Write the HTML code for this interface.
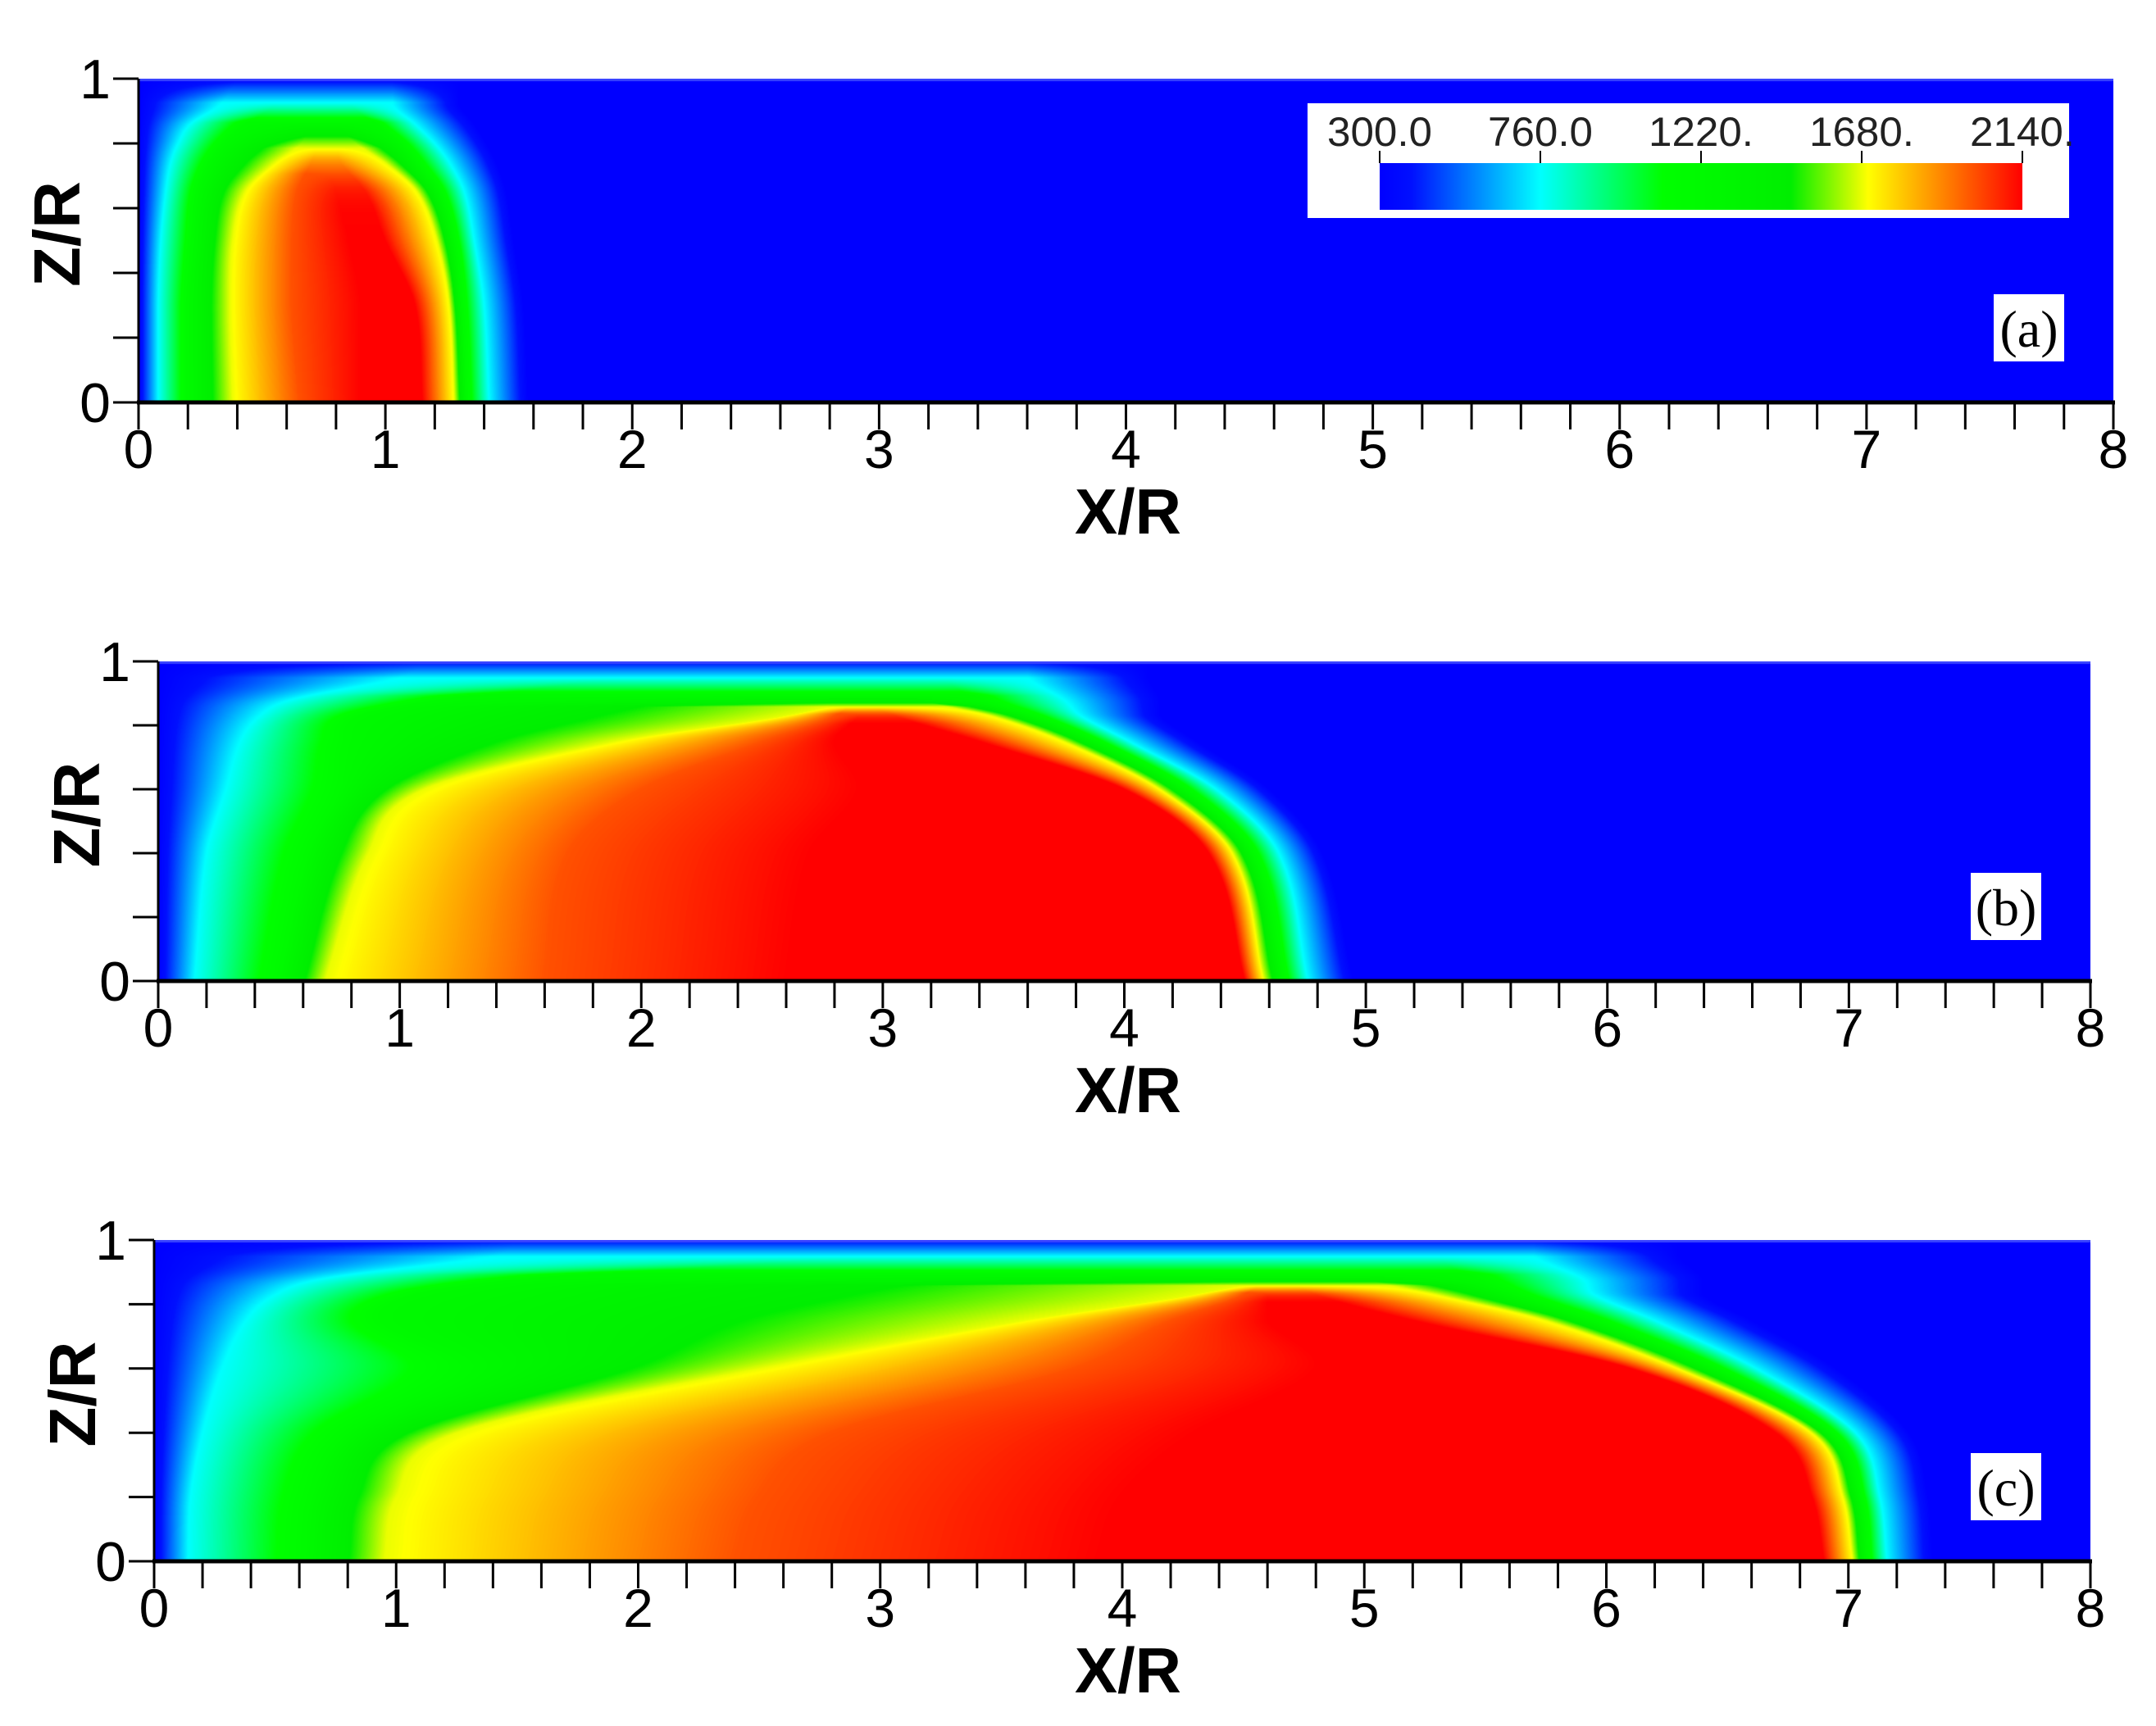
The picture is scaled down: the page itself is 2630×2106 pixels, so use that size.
<!DOCTYPE html>
<html><head><meta charset="utf-8">
<style>
html,body{margin:0;padding:0;background:#fff;}
#wrap{position:relative;width:2630px;height:2106px;overflow:hidden;background:#fff;}
canvas{position:absolute;}
svg{position:absolute;left:0;top:0;}
</style></head>
<body>
<div id="wrap">
<canvas id="cA"></canvas>
<canvas id="cB"></canvas>
<canvas id="cC"></canvas>
<svg id="ov" width="2630" height="2106"></svg>
</div>
<script>
// ---- data ----
const xTicks = [0,1,2,3,4,5,6,7,8];
const cbTickValues = [300,760,1220,1680,2140];
const cbTickLabels = ["300.0","760.0","1220.","1680.","2140."];
const knotTemps = [300,760,1220,1680,2000,2140,2140,1680,1220,760,300];
const panelLabels = ["(a)","(b)","(c)"];

const zA = [0,0.3,0.5,0.65,0.74,0.8,0.86,0.92,1.0];
const peakA = [2140,2140,2140,2100,1900,1600,1250,800,330];
const knotsA = [
 [0,0.08,0.20,0.38,0.65,0.90,1.15,1.28,1.33,1.42,1.58],
 [0,0.08,0.20,0.37,0.62,0.90,1.12,1.26,1.31,1.40,1.56],
 [0,0.09,0.22,0.38,0.62,0.85,1.00,1.21,1.28,1.36,1.52],
 [0,0.11,0.24,0.43,0.64,0.80,0.92,1.13,1.22,1.32,1.49],
 [0,0.13,0.29,0.55,0.70,0.76,0.82,1.00,1.13,1.26,1.45],
 [0,0.16,0.35,0.66,0.72,0.76,0.80,0.88,1.06,1.20,1.41],
 [0,0.21,0.44,0.68,0.70,0.72,0.76,0.80,0.96,1.12,1.36],
 [0,0.33,0.55,0.60,0.63,0.66,0.70,0.75,0.86,1.03,1.30],
 [0,0.40,0.55,0.60,0.63,0.66,0.70,0.75,0.86,1.03,1.30]
];

const zB = [0,0.4,0.6,0.75,0.83,0.88,0.95,1.0];
const peakB = [2140,2140,2140,2140,2050,1350,750,360];
const knotsB = [
 [0,0.15,0.50,0.69,1.6,2.6,4.50,4.58,4.66,4.76,4.95],
 [0,0.20,0.62,0.87,1.7,2.7,4.35,4.45,4.53,4.64,4.82],
 [0,0.28,0.75,1.10,2.0,2.9,4.00,4.15,4.25,4.38,4.60],
 [0,0.34,0.78,1.90,2.5,2.8,3.40,3.75,3.88,4.02,4.30],
 [0,0.42,0.85,2.60,2.8,2.9,3.05,3.45,3.62,3.82,4.15],
 [0,0.55,1.20,2.80,2.85,2.9,2.95,3.15,3.40,3.75,4.15],
 [0,1.00,1.90,2.40,2.6,2.8,3.00,3.10,3.25,3.60,4.10],
 [0,1.10,2.00,2.40,2.6,2.8,3.00,3.10,3.25,3.60,4.10]
];

const zC = [0,0.2,0.4,0.6,0.75,0.83,0.88,0.95,1.0];
const peakC = [2140,2140,2140,2140,2140,2050,1350,750,360];
const knotsC = [
 [0,0.14,0.62,0.95,2.4,3.9,6.90,7.02,7.08,7.16,7.35],
 [0,0.15,0.65,1.00,2.5,4.0,6.85,6.98,7.05,7.13,7.33],
 [0,0.20,0.80,1.25,2.8,4.3,6.70,6.85,6.93,7.03,7.25],
 [0,0.28,1.30,2.50,3.8,4.8,6.10,6.30,6.45,6.62,6.95],
 [0,0.38,0.95,3.60,4.2,4.6,5.20,5.75,5.95,6.20,6.60],
 [0,0.50,1.10,4.30,4.5,4.6,4.80,5.30,5.62,5.95,6.40],
 [0,0.70,1.60,4.50,4.55,4.6,4.70,5.00,5.45,5.90,6.40],
 [0,1.40,2.90,3.80,4.2,4.5,4.80,5.00,5.30,5.70,6.30],
 [0,1.50,3.00,3.80,4.2,4.5,4.80,5.00,5.30,5.70,6.30]
];

// colormap stops (fraction of 300..2140)
const cmapPos = [0,0.05,0.25,0.44,0.64,0.76,0.88,1];
const cmapCol = ["#0000ff","#0010ff","#00ffff","#00ff00","#00ee00","#ffff00","#ff8000","#ff0000"];

// ---- layout ----
const panels = [
 {id:"cA", L:169, R:2578, T:96,  B:491,  z:zA, peak:peakA, knots:knotsA, key:"a"},
 {id:"cB", L:193, R:2550, T:807, B:1197, z:zB, peak:peakB, knots:knotsB, key:"b"},
 {id:"cC", L:188, R:2550, T:1513,B:1905, z:zC, peak:peakC, knots:knotsC, key:"c"}
];
const TMIN=300, TMAX=2140;
function hex(c){return [parseInt(c.substr(1,2),16),parseInt(c.substr(3,2),16),parseInt(c.substr(5,2),16)];}
const cmapRGB = cmapCol.map(hex);
function colorAt(f){
  f=Math.max(0,Math.min(1,f));
  for(let i=0;i<cmapPos.length-1;i++){
    if(f<=cmapPos[i+1]){
      const t=(f-cmapPos[i])/(cmapPos[i+1]-cmapPos[i]);
      const a=cmapRGB[i],b=cmapRGB[i+1];
      return [a[0]+(b[0]-a[0])*t,a[1]+(b[1]-a[1])*t,a[2]+(b[2]-a[2])*t];
    }
  }
  return cmapRGB[cmapRGB.length-1];
}
const LUT=[];for(let i=0;i<512;i++)LUT.push(colorAt(i/511));

function interp(zs,vals,k,t){
  const n=zs.length;
  const p0=vals[Math.max(0,k-1)],p1=vals[k],p2=vals[k+1],p3=vals[Math.min(n-1,k+2)];
  const z0=zs[Math.max(0,k-1)],z1=zs[k],z2=zs[k+1],z3=zs[Math.min(n-1,k+2)];
  const h=z2-z1;
  const m1=(k>0)?(p2-p0)/(z2-z0)*h:(p2-p1);
  const m2=(k+2<n)?(p3-p1)/(z3-z1)*h:(p2-p1);
  const t2=t*t,t3=t2*t;
  let v=(2*t3-3*t2+1)*p1+(t3-2*t2+t)*m1+(-2*t3+3*t2)*p2+(t3-t2)*m2;
  const lo=Math.min(p1,p2),hi=Math.max(p1,p2);
  return Math.max(lo-0.15*(hi-lo),Math.min(hi+0.15*(hi-lo),v));
}

function drawField(p){
  const cv=document.getElementById(p.id);
  const W=p.R-p.L,H=p.B-p.T;
  cv.width=W;cv.height=H;cv.style.left=p.L+"px";cv.style.top=p.T+"px";
  const ctx=cv.getContext("2d");
  const img=ctx.createImageData(W,H);const d=img.data;
  const xs=new Array(11),ts=new Array(11);
  const cols=p.knots[0].map((_,n)=>p.knots.map(r=>r[n]));
  for(let j=0;j<H;j++){
    const z=1-(j+0.5)/H;
    let k=0;while(k<p.z.length-2&&z>p.z[k+1])k++;
    const t=Math.max(0,Math.min(1,(z-p.z[k])/(p.z[k+1]-p.z[k])));
    let pk=interp(p.z,p.peak,k,t);pk=Math.max(TMIN,Math.min(TMAX,pk));
    for(let n=0;n<11;n++){
      xs[n]=interp(p.z,cols[n],k,t);
      if(n>0&&xs[n]<xs[n-1])xs[n]=xs[n-1];
      ts[n]=Math.min(knotTemps[n],pk);
    }
    let m=0;
    for(let i=0;i<W;i++){
      const x=(i+0.5)/W*8;
      while(m<10&&x>xs[m+1])m++;
      let T;
      if(x>=xs[10])T=ts[10];
      else{const a=xs[m],b=xs[m+1];const u=b>a?(x-a)/(b-a):1;T=ts[m]+(ts[m+1]-ts[m])*u;}
      const c=LUT[Math.round((T-TMIN)/(TMAX-TMIN)*511)|0]||LUT[0];
      const o=(j*W+i)*4;d[o]=c[0];d[o+1]=c[1];d[o+2]=c[2];d[o+3]=255;
    }
  }
  ctx.putImageData(img,0,0);
  ctx.fillStyle="#3a44ff";ctx.fillRect(0,0,W,3);
}
panels.forEach(drawField);

// ---- SVG overlay ----
const NS="http://www.w3.org/2000/svg";
const svg=document.getElementById("ov");
function el(tag,attrs,parent){const e=document.createElementNS(NS,tag);for(const k in attrs)e.setAttribute(k,attrs[k]);(parent||svg).appendChild(e);return e;}

const defs=el("defs",{});
const grad=el("linearGradient",{id:"cbgrad",x1:"0",x2:"1",y1:"0",y2:"0"},defs);
cmapPos.forEach((p,i)=>{el("stop",{offset:p,"stop-color":cmapCol[i]},grad);});

panels.forEach((p,pi)=>{
  const g=el("g",{});
  
  
  const xS=v=>p.L+(p.R-p.L)*v/8;
  const yS=v=>p.B-(p.B-p.T)*v;
  for(let i=0;i<=40;i++){
    const x=xS(i*0.2);
    const t=el("line",{x1:x,x2:x,y1:p.B,y2:p.B+33,stroke:"#000","stroke-width":3},g);
    
    
  }
  for(let i=0;i<=5;i++){
    const y=yS(i*0.2);
    const t=el("line",{x1:p.L-31,x2:p.L,y1:y,y2:y,stroke:"#000","stroke-width":3},g);
    
    
  }
  const xa=el("line",{x1:p.L-2,x2:p.R+2,y1:p.B,y2:p.B,stroke:"#000","stroke-width":5},g);
  
  
  const ya=el("line",{x1:p.L,x2:p.L,y1:p.T,y2:p.B,stroke:"#000","stroke-width":3},g);
  
  
  xTicks.forEach(v=>{
    const t=el("text",{x:xS(v),y:p.B+80,"text-anchor":"middle","font-family":"Liberation Sans, sans-serif","font-size":66,fill:"#000"},g);
    t.textContent=String(v);
    
    
  });
  [[1,p.T],[0,p.B]].forEach(([v,y])=>{
    const t=el("text",{x:p.L-34,y:y+24,"text-anchor":"end","font-family":"Liberation Sans, sans-serif","font-size":68,fill:"#000"},g);
    t.textContent=String(v);
    
    
  });
  const xt=el("text",{x:1376,y:p.B+160,"text-anchor":"middle","font-family":"Liberation Sans, sans-serif","font-size":78,"font-weight":"bold",fill:"#000"},g);
  xt.textContent="X/R";
  
  
  const cy=(p.T+p.B)/2-8, cx=p.L-72;
  const yt=el("text",{x:cx,y:cy,"text-anchor":"middle","font-family":"Liberation Sans, sans-serif","font-size":80,"font-weight":"bold",fill:"#000",transform:"rotate(-90 "+cx+" "+cy+")"},g);
  yt.textContent="Z/R";
  
  
  const bx=p.R-146, by=p.B-132;
  const lb=el("rect",{x:bx,y:by,width:86,height:82,fill:"#fff"},g);
  
  
  const lt=el("text",{x:bx+43,y:by+64,"text-anchor":"middle","font-family":"Liberation Serif, serif","font-size":64,fill:"#000"},g);
  lt.textContent=panelLabels[pi];
  
  
});

const cb=el("g",{});


const cbBox=el("rect",{x:1595,y:126,width:929,height:140,fill:"#fff"},cb);


const cbL=1683,cbR=2467,cbT=199,cbB=256;
const bar=el("rect",{x:cbL,y:cbT,width:cbR-cbL,height:cbB-cbT,fill:"url(#cbgrad)"},cb);


const cbS=v=>cbL+(cbR-cbL)*(v-TMIN)/(TMAX-TMIN);
cbTickValues.forEach((v,i)=>{
  const x=cbS(v);
  const tk=el("line",{x1:x,x2:x,y1:184,y2:cbT,stroke:"#000","stroke-width":2},cb);
  
  
  const t=el("text",{x:x,y:178,"text-anchor":"middle","font-family":"Liberation Sans, sans-serif","font-size":50,fill:"#222",textLength:128,lengthAdjust:"spacingAndGlyphs"},cb);
  t.textContent=cbTickLabels[i];
  
  
});
</script>
</body></html>
